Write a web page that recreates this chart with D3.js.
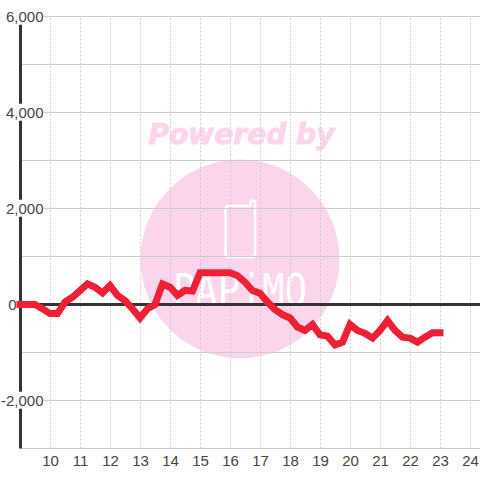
<!DOCTYPE html>
<html><head><meta charset="utf-8">
<style>html,body{margin:0;padding:0;background:#fff}svg{display:block}</style>
<script src="https://cdn.jsdelivr.net/npm/d3@7"></script></head><body>
<svg id="c" width="480" height="480"></svg>
<script>
const hours=[9,9.25,9.5,9.75,10,10.25,10.5,10.75,11,11.25,11.5,11.75,12,12.25,12.5,12.75,13,13.25,13.5,13.75,14,14.25,14.5,14.75,15,15.25,15.5,15.75,16,16.25,16.5,16.75,17,17.25,17.5,17.75,18,18.25,18.5,18.75,19,19.25,19.5,19.75,20,20.25,20.5,20.75,21,21.25,21.5,21.75,22,22.25,22.5,22.75,23];
const values=[0,0,0,-90,-190,-190,50,150,290,430,360,240,395,190,80,-90,-280,-90,0,430,360,190,295,280,660,660,660,660,660,600,465,290,235,50,-105,-210,-280,-470,-540,-415,-630,-660,-840,-785,-415,-540,-600,-700,-540,-335,-540,-680,-700,-785,-680,-590,-590];
const xTicks=[10,11,12,13,14,15,16,17,18,19,20,21,22,23,24];
const yLabelled=[6000,4000,2000,0,-2000];
const yGrid=[6000,5000,4000,3000,2000,1000,-1000,-2000,-3000];
const yLabelText=["6,000","4,000","2,000","0","-2,000"];
const watermarkTop="Powered by", watermarkLogo="PAPiMO";

const svg=d3.select("#c");
const x=d3.scaleLinear().domain([9,25]).range([20,500]);
const y=d3.scaleLinear().domain([6000,-3000]).range([16.5,448.5]);
const font="'Liberation Sans',Arial,sans-serif";
const pink="#fbd5ec";

// watermark
svg.append("circle").attr("cx",240).attr("cy",259).attr("r",99.5).attr("fill",pink);
svg.append("text").attr("x",241.5).attr("y",144).attr("text-anchor","middle")
 .attr("font-family","'DejaVu Sans'").attr("font-weight","bold").attr("font-style","italic")
 .attr("font-size",28).attr("textLength",186).attr("lengthAdjust","spacingAndGlyphs")
 .attr("fill",pink).attr("stroke",pink).attr("stroke-width",1).text(watermarkTop);
svg.append("path").attr("d","M229 206H250.5V202Q250.5 200.3 253 200.3Q255 200.3 255 202V254Q255 257 252 257H229Q225.5 257 225.5 254V209Q225.5 206 229 206Z")
 .attr("fill","none").attr("stroke","#fff").attr("stroke-width",2.5);
svg.append("text").attr("x",240).attr("y",306).attr("text-anchor","middle")
 .attr("font-family","'DejaVu Sans Mono'").attr("font-size",44).attr("textLength",134).attr("lengthAdjust","spacingAndGlyphs")
 .attr("fill","#fff").text(watermarkLogo);

// grid
const vg=d3.axisBottom(x).tickValues(xTicks).tickSize(-432).tickFormat(d=>d).offset(0.5);
const gx=svg.append("g").attr("transform","translate(0,448.5)").call(vg);
gx.select(".domain").remove();
gx.selectAll(".tick line").attr("stroke","#ccc").attr("stroke-dasharray","2,2");
gx.selectAll("text").attr("y",7).attr("dy","0.71em").attr("font-family",font).attr("font-size",15).attr("fill","#444");

const gy=svg.append("g");
gy.selectAll("line").data(yGrid).join("line")
 .attr("x1",20.5).attr("x2",480).attr("y1",d=>y(d)).attr("y2",d=>y(d))
 .attr("stroke","#ccc");

// axis and zero line
const ax=svg.append("g").attr("fill","none").attr("stroke","#333").attr("stroke-width",3);
ax.append("line").attr("x1",x(9)+0.5).attr("x2",x(9)+0.5).attr("y1",y(6000)).attr("y2",y(-3000));
ax.append("line").attr("x1",x(9)).attr("x2",480).attr("y1",y(0)).attr("y2",y(0));

// labels with white background
const labels=svg.append("g");
yLabelled.forEach((v,i)=>{
  const tx=labels.append("text").attr("x",v===0?16.5:43.5).attr("y",y(v)).attr("dy","0.35em").attr("text-anchor","end")
    .attr("font-family",font).attr("font-size",15).attr("fill","#444").text(yLabelText[i]);
  const b=tx.node().getBBox();
  labels.insert("rect","text").attr("x",b.x).attr("y",b.y).attr("width",b.width+1).attr("height",b.height).attr("fill","#fff");
});

// series
const line=d3.line().x((d,i)=>x(hours[i])).y(d=>y(d));
svg.append("path").datum(values).attr("d",line).attr("fill","none")
 .attr("stroke","#ee2035").attr("stroke-width",7).attr("stroke-linecap","square").attr("stroke-linejoin","miter");
</script></body></html>
